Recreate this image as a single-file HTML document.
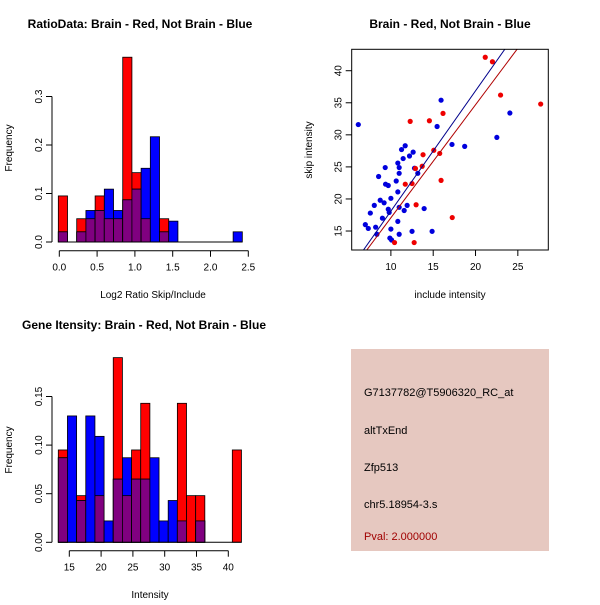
<!DOCTYPE html>
<html><head><meta charset="utf-8"><style>
body{margin:0;background:#fff;font-family:"Liberation Sans",sans-serif}
svg text{font-family:"Liberation Sans",sans-serif}
</style></head><body>
<svg id="s" width="600" height="600" xmlns="http://www.w3.org/2000/svg">
<rect x="0" y="0" width="600" height="600" fill="#fff"/>
<text x="140" y="28" font-size="12" font-weight="bold" text-anchor="middle">RatioData: Brain - Red, Not Brain - Blue</text>
<text x="450" y="28" font-size="12" font-weight="bold" text-anchor="middle">Brain - Red, Not Brain - Blue</text>
<text x="144" y="329" font-size="12" font-weight="bold" text-anchor="middle">Gene Itensity: Brain - Red, Not Brain - Blue</text>
<text x="153" y="298" font-size="10" text-anchor="middle">Log2 Ratio Skip/Include</text>
<text x="150" y="598" font-size="10" text-anchor="middle">Intensity</text>
<text x="450" y="298" font-size="10" text-anchor="middle">include intensity</text>
<text transform="translate(12,148) rotate(-90)" font-size="10" text-anchor="middle">Frequency</text>
<text transform="translate(12,450) rotate(-90)" font-size="10" text-anchor="middle">Frequency</text>
<text transform="translate(312,150) rotate(-90)" font-size="10" text-anchor="middle">skip intensity</text>
<rect x="351" y="349" width="198" height="202" fill="#e6c8c0"/>
<text x="364" y="396" font-size="11">G7137782@T5906320_RC_at</text>
<text x="364" y="434" font-size="11">altTxEnd</text>
<text x="364" y="471" font-size="11">Zfp513</text>
<text x="364" y="508" font-size="11">chr5.18954-3.s</text>
<text x="364" y="540" font-size="11" fill="#a00000">Pval: 2.000000</text>
</svg>
<script>
// ratio histogram data
const ratioRed  = [0.095,0,0.048,0.048,0.095,0.048,0.048,0.381,0.143,0.048,0,0.048,0,0,0,0,0,0,0,0];
const ratioBlue = [0.021,0,0.021,0.065,0.065,0.109,0.065,0.087,0.109,0.152,0.217,0.021,0.043,0,0,0,0,0,0,0.021];
const ratioXTicks = [0,0.5,1,1.5,2,2.5];
const ratioYTicks = [0,0.1,0.2,0.3];
// intensity histogram data
const intRed  = [0.095,0,0.048,0,0.048,0,0.19,0.048,0.095,0.143,0,0,0,0.143,0.048,0.048,0,0,0,0.095];
const intBlue = [0.087,0.13,0.043,0.13,0.109,0.022,0.065,0.087,0.065,0.065,0.087,0.022,0.043,0.022,0,0.022,0,0,0,0];
const intXTicks = [15,20,25,30,35,40];
const intYTicks = [0,0.05,0.1,0.15];
const intYLabels = ["0.00","0.05","0.10","0.15"];
// scatter data
const blueX = [6.15,6.98,7.33,7.57,8.04,8.2,8.35,8.55,8.74,9.0,9.2,9.33,9.37,9.69,9.69,9.8,10,10,9.88,10.08,10.63,10.82,10.82,10.82,10.98,10.98,10.98,10.98,11.26,11.45,11.69,11.57,11.92,12.2,12.63,12.5,12.79,13.18,13.93,15.46,15.93,17.22,18.72,14.87,22.52,24.06];
const blueY = [31.6,16.0,15.4,17.8,19.0,15.6,14.5,23.5,19.8,17.0,19.4,24.9,22.3,22.1,18.4,17.9,20.1,15.3,13.9,13.6,22.8,21.1,16.5,25.6,24.9,24.0,18.7,14.5,27.7,26.3,28.3,18.2,19.0,26.7,27.3,14.95,24.8,24.0,18.5,31.3,35.4,28.5,28.2,14.95,29.6,33.4];
const redX = [12.28,14.55,16.16,21.15,22.0,22.96,27.7,15.07,15.77,13.8,13.7,12.9,11.7,12.5,15.93,12.98,17.25,10.43,12.75];
const redY = [32.1,32.2,33.35,42.1,41.4,36.2,34.8,27.6,27.1,26.9,25.1,24.75,22.3,22.4,22.9,19.1,17.1,13.2,13.2];
const fitBlue = [-0.64,1.875];
const fitRed = [-0.57,1.763];
const scXTicks = [10,15,20,25];
const scYTicks = [15,20,25,30,35,40];

const NS="http://www.w3.org/2000/svg";
const svg=document.getElementById('s');
function mk(tag,attrs,parent){const e=document.createElementNS(NS,tag);for(const k in attrs)e.setAttribute(k,attrs[k]);(parent||svg).appendChild(e);return e;}

function hist(o){
  const sx=v=>o.x0+(v-o.v0)*o.kx, sy=v=>o.y0-(v)*o.ky;
  const g=mk('g',{});
  
  
  for(let i=0;i<o.red.length;i++){
    const a=o.start+i*o.bw, xa=sx(a), w=o.bw*o.kx;
    const r=o.red[i], b=o.blue[i], m=Math.min(r,b);
    if(r>0){const e=mk('rect',{x:xa,y:sy(r),width:w,height:sy(0)-sy(r),fill:'#ff0000',stroke:'#000','stroke-width':0.8},g);
      
      }
    if(b>0){const e=mk('rect',{x:xa,y:sy(b),width:w,height:sy(0)-sy(b),fill:'#0000ff',stroke:'#000','stroke-width':0.8},g);
      
      }
    if(m>0){const e=mk('rect',{x:xa,y:sy(m),width:w,height:sy(0)-sy(m),fill:'#800080',stroke:'#000','stroke-width':0.8},g);
      
      }
  }
  mk('line',{x1:sx(o.start),x2:sx(o.start+o.red.length*o.bw),y1:sy(0),y2:sy(0),stroke:'#000'},g);
  const ax=mk('g',{});
  
  
  const t0=o.xt[0],t1=o.xt[o.xt.length-1];
  mk('line',{x1:sx(t0),x2:sx(t1),y1:o.axY,y2:o.axY,stroke:'#000'},ax);
  o.xt.forEach((t,i)=>{mk('line',{x1:sx(t),x2:sx(t),y1:o.axY,y2:o.axY+6,stroke:'#000'},ax);
    const tx=mk('text',{x:sx(t),y:o.axY+20,'font-size':10,'text-anchor':'middle'},ax);tx.textContent=o.xl[i];});
  const ay=mk('g',{});
  
  
  mk('line',{x1:o.axX,x2:o.axX,y1:sy(o.yt[0]),y2:sy(o.yt[o.yt.length-1]),stroke:'#000'},ay);
  o.yt.forEach((t,i)=>{mk('line',{x1:o.axX-6,x2:o.axX,y1:sy(t),y2:sy(t),stroke:'#000'},ay);
    const tx=mk('text',{transform:`translate(${o.axX-10},${sy(t)}) rotate(-90)`,'font-size':10,'text-anchor':'middle'},ay);tx.textContent=o.yl[i];});
}
hist({name:'ratio-histogram',red:ratioRed,blue:ratioBlue,x0:59.3,v0:0,kx:75.6,y0:242,ky:485,start:-0.013,bw:0.1217,
  xt:ratioXTicks,xl:["0.0","0.5","1.0","1.5","2.0","2.5"],yt:ratioYTicks,yl:["0.0","0.1","0.2","0.3"],axY:250.7,axX:52});
hist({name:'intensity-histogram',red:intRed,blue:intBlue,x0:69.3,v0:15,kx:6.36,y0:542.3,ky:972,start:13.27,bw:1.44,
  xt:intXTicks,xl:intXTicks.map(String),yt:intYTicks,yl:intYLabels,axY:550.7,axX:52});

(function(){
  const L=351.7,R=548.3,T=49.3,B=250,xmin=5.37,xmax=28.6,ymin=12.04,ymax=43.34;
  const sx=v=>L+(v-xmin)/(xmax-xmin)*(R-L), sy=v=>B-(v-ymin)/(ymax-ymin)*(B-T);
  const g=mk('g',{});
  
  
  const cp=mk('clipPath',{id:'cp'},g);mk('rect',{x:L,y:T,width:R-L,height:B-T},cp);
  blueX.forEach((x,i)=>{const c=mk('circle',{cx:sx(x),cy:sy(blueY[i]),r:2.6,fill:'#0000dd'},g);
    
    });
  redX.forEach((x,i)=>{const c=mk('circle',{cx:sx(x),cy:sy(redY[i]),r:2.6,fill:'#ee0000'},g);
    
    });
  [[fitBlue,'#00008b','blue-fit-line'],[fitRed,'#b00000','red-fit-line']].forEach(([f,col,n])=>{
    const l=mk('line',{x1:sx(xmin),y1:sy(f[0]+f[1]*xmin),x2:sx(xmax),y2:sy(f[0]+f[1]*xmax),stroke:col,'stroke-width':1,'clip-path':'url(#cp)'},g);
    
    });
  const box=mk('rect',{x:L,y:T,width:R-L,height:B-T,fill:'none',stroke:'#000'},g);
  
  
  scXTicks.forEach(t=>{mk('line',{x1:sx(t),x2:sx(t),y1:B,y2:B+6,stroke:'#000'},g);
    const tx=mk('text',{x:sx(t),y:B+20,'font-size':10,'text-anchor':'middle'},g);tx.textContent=t;});
  scYTicks.forEach(t=>{mk('line',{x1:L-6,x2:L,y1:sy(t),y2:sy(t),stroke:'#000'},g);
    const tx=mk('text',{transform:`translate(${L-10},${sy(t)}) rotate(-90)`,'font-size':10,'text-anchor':'middle'},g);tx.textContent=t;});
})();
</script>
</body></html>
